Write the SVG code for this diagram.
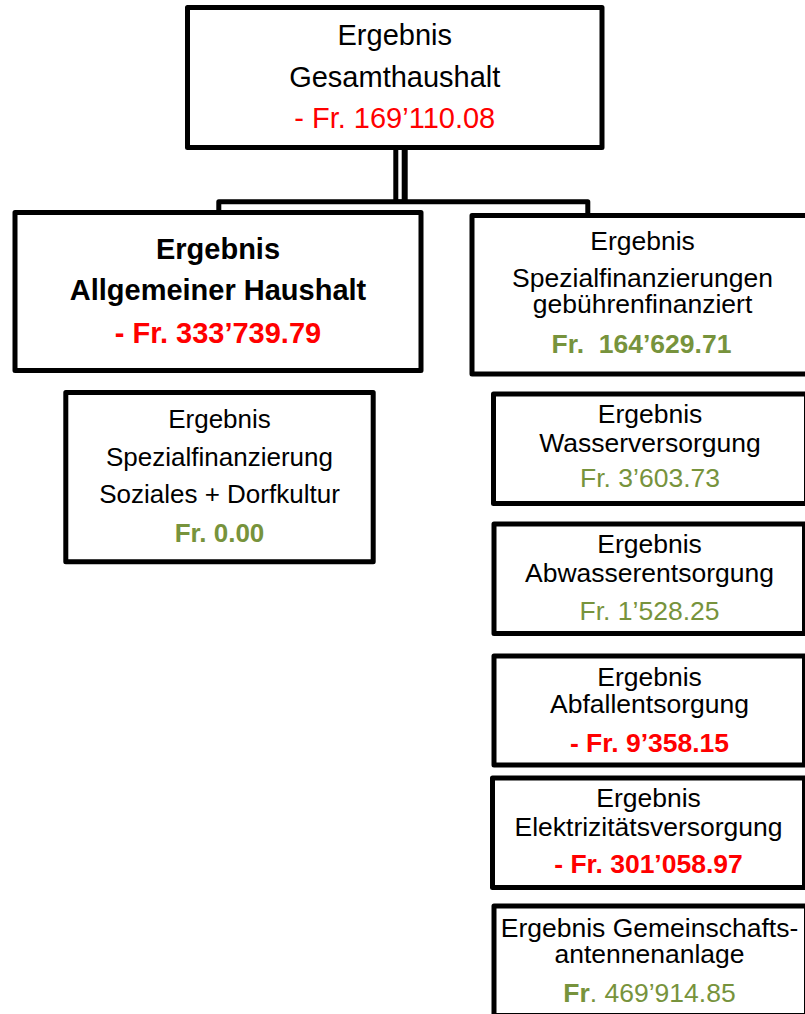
<svg xmlns="http://www.w3.org/2000/svg" width="805" height="1014" viewBox="0 0 805 1014">
<style>
  .box { fill: #ffffff; stroke: #000000; stroke-width: 5; stroke-linejoin: round; }
  text { font-family: "Liberation Sans", Arial, sans-serif; text-anchor: middle; fill: #000000; }
  .t29 { font-size: 29px; }
  .t26 { font-size: 26px; }
  .t265 { font-size: 26.5px; }
  .b { font-weight: bold; }
  .red { fill: #ff0000; }
  .green { fill: #77933c; }
</style>
<rect x="0" y="0" width="805" height="1014" fill="#ffffff"/>
<g id="connectors">
  <rect x="393.3" y="146" width="14.4" height="56" fill="#000000"/>
  <rect x="398.3" y="150" width="3.4" height="49.5" fill="#ffffff"/>
  <polyline points="218.8,213 218.8,201.7 587.8,201.7 587.8,216" fill="none" stroke="#000000" stroke-width="5" stroke-linejoin="round"/>
</g>
<g id="gesamthaushalt">
  <rect class="box" x="187.5" y="7.5" width="414.5" height="140"/>
  <text class="t29" x="394.75" y="45">Ergebnis</text>
  <text class="t29" x="394.75" y="87.3">Gesamthaushalt</text>
  <text class="t29 red" x="394.75" y="128.3">- Fr. 169’110.08</text>
</g>
<g id="allgemeiner-haushalt">
  <rect class="box" x="15" y="212.5" width="406" height="158"/>
  <text class="t29 b" x="218" y="259.3">Ergebnis</text>
  <text class="t29 b" x="218" y="300">Allgemeiner Haushalt</text>
  <text class="t29 b red" x="218" y="342.7">- Fr. 333’739.79</text>
</g>
<g id="soziales-dorfkultur">
  <rect class="box" x="65.8" y="392.5" width="307.4" height="169.2"/>
  <text class="t26" x="219.5" y="427.7">Ergebnis</text>
  <text class="t26" x="219.5" y="465.7">Spezialfinanzierung</text>
  <text class="t26" x="219.5" y="503.3">Soziales + Dorfkultur</text>
  <text class="t26 b green" x="219.5" y="542.3">Fr. 0.00</text>
</g>
<g id="spezialfinanzierungen">
  <rect class="box" x="472" y="215.5" width="340" height="158.5"/>
  <text class="t265" x="642.5" y="250">Ergebnis</text>
  <text class="t265" x="642.5" y="287.3">Spezialfinanzierungen</text>
  <text class="t265" x="642.5" y="313.3">gebührenfinanziert</text>
  <text class="t265 b green" x="641.5" y="353.3" xml:space="preserve">Fr.  164’629.71</text>
</g>
<g id="wasserversorgung">
  <rect class="box" x="493.5" y="394" width="313" height="109.5"/>
  <text class="t265" x="650" y="422.7">Ergebnis</text>
  <text class="t265" x="650" y="451.7">Wasserversorgung</text>
  <text class="t265 green" x="650" y="487.3">Fr. 3’603.73</text>
</g>
<g id="abwasserentsorgung">
  <rect class="box" x="494" y="524" width="310.5" height="109.5"/>
  <text class="t265" x="649.5" y="553.3">Ergebnis</text>
  <text class="t265" x="649.5" y="581.7">Abwasserentsorgung</text>
  <text class="t265 green" x="649.5" y="620">Fr. 1’528.25</text>
</g>
<g id="abfallentsorgung">
  <rect class="box" x="494" y="656" width="310.5" height="109"/>
  <text class="t265" x="649.5" y="685.7">Ergebnis</text>
  <text class="t265" x="649.5" y="713.3">Abfallentsorgung</text>
  <text class="t265 b red" x="649.5" y="751.7">- Fr. 9’358.15</text>
</g>
<g id="elektrizitaetsversorgung">
  <rect class="box" x="492.5" y="778" width="312" height="109.5"/>
  <text class="t265" x="648.5" y="807.3">Ergebnis</text>
  <text class="t265" x="648.5" y="836">Elektrizitätsversorgung</text>
  <text class="t265 b red" x="648.5" y="873.3">- Fr. 301’058.97</text>
</g>
<g id="gemeinschaftsantennenanlage">
  <rect class="box" x="494" y="906" width="312.5" height="109.5"/>
  <text class="t265" x="649.5" y="936.7">Ergebnis Gemeinschafts-</text>
  <text class="t265" x="649.5" y="963.3">antennenanlage</text>
  <text class="t265 green" x="649.5" y="1001.7"><tspan class="b">Fr</tspan>. 469’914.85</text>
</g>
</svg>
